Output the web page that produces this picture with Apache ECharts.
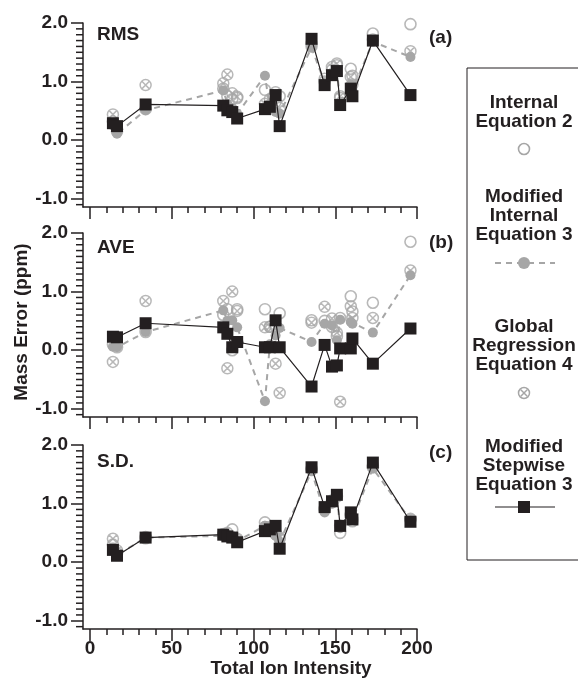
<!DOCTYPE html>
<html>
<head>
<meta charset="utf-8">
<script src="https://cdn.jsdelivr.net/npm/echarts@6/dist/echarts.min.js"></script>
<style>
html,body{margin:0;padding:0;background:#fff;}
#chart{width:578px;height:680px;}
</style>
</head>
<body>
<div id="chart"></div>
<script>
// ---------- DATA ----------
var intensity = [14, 16.5, 34, 81.5, 84, 87, 90, 107, 110, 113.5, 116, 135.5, 143.5, 148, 151, 153, 159.5, 160.5, 173, 196];

// (a) RMS
var rmsInternal    = [0.32, 0.15, 0.53, 0.88, 0.75, 0.70, 0.72, 0.86, 0.60, 0.65, 0.75, 1.65, 1.00, 1.20, 1.28, 0.72, 1.22, 1.10, 1.82, 1.98];
var rmsModInternal = [0.25, 0.11, 0.51, 0.85, 0.62, 0.55, 0.45, 1.10, 0.55, 0.48, 0.45, 1.58, 0.98, 1.10, 1.20, 0.65, 0.95, 0.85, 1.68, 1.42];
var rmsGlobal      = [0.44, 0.20, 0.94, 0.97, 1.12, 0.80, 0.74, 0.62, 0.70, 0.82, 0.55, 1.60, 1.05, 1.25, 1.31, 0.75, 1.08, 0.95, 1.72, 1.52];
var rmsStepwise    = [0.29, 0.24, 0.61, 0.59, 0.51, 0.48, 0.37, 0.53, 0.57, 0.77, 0.24, 1.73, 0.94, 1.11, 1.18, 0.60, 0.88, 0.75, 1.70, 0.77];

// (b) AVE
var aveInternal    = [0.10, 0.05, 0.31, 0.60, 0.70, 0.00, 0.70, 0.70, 0.40, 0.40, 0.63, 0.51, 0.50, 0.40, 0.24, 0.55, 0.92, 0.66, 0.81, 1.85];
var aveModInternal = [0.06, 0.05, 0.31, 0.68, 0.50, 0.51, 0.39, -0.87, 0.10, 0.25, 0.38, 0.14, 0.45, 0.42, 0.17, 0.52, 0.48, 0.45, 0.30, 1.28];
var aveGlobal      = [-0.20, 0.10, 0.84, 0.84, -0.31, 1.00, 0.67, 0.39, 0.40, -0.23, -0.73, 0.47, 0.74, 0.54, 0.30, -0.88, 0.75, 0.55, 0.55, 1.36];
var aveStepwise    = [0.23, 0.22, 0.46, 0.39, 0.28, 0.05, 0.14, 0.05, 0.05, 0.51, 0.05, -0.62, 0.09, -0.28, -0.26, 0.03, 0.03, 0.20, -0.23, 0.37];

// (c) S.D.
var sdInternal     = [0.30, 0.15, 0.41, 0.48, 0.50, 0.56, 0.40, 0.68, 0.60, 0.48, 0.40, 1.60, 0.90, 1.05, 1.12, 0.50, 0.80, 0.70, 1.62, 0.74];
var sdModInternal  = [0.25, 0.12, 0.42, 0.45, 0.42, 0.40, 0.36, 0.62, 0.55, 0.45, 0.35, 1.55, 0.85, 1.00, 1.12, 0.58, 0.78, 0.72, 1.60, 0.72];
var sdGlobal       = [0.40, 0.20, 0.43, 0.46, 0.45, 0.43, 0.38, 0.60, 0.58, 0.50, 0.42, 1.58, 0.92, 1.02, 1.14, 0.62, 0.82, 0.74, 1.65, 0.72];
var sdStepwise     = [0.21, 0.11, 0.42, 0.47, 0.44, 0.42, 0.34, 0.53, 0.56, 0.62, 0.23, 1.62, 0.94, 1.04, 1.15, 0.62, 0.85, 0.73, 1.70, 0.69];

var xMajorTicks = [0, 50, 100, 150, 200];
var xMinorTicks = [10, 20, 30, 40, 60, 70, 80, 90, 110, 120, 130, 140, 160, 170, 180, 190];
var yMajorTicks = [-1, 0, 1, 2];
var yMinorTicks = [-1.1, -0.9, -0.8, -0.7, -0.6, -0.5, -0.4, -0.3, -0.2, -0.1,
                   0.1, 0.2, 0.3, 0.4, 0.5, 0.6, 0.7, 0.8, 0.9,
                   1.1, 1.2, 1.3, 1.4, 1.5, 1.6, 1.7, 1.8, 1.9];

var panelNames = ['RMS', 'AVE', 'S.D.'];
var panelTags = ['(a)', '(b)', '(c)'];
var legendNames = [['Internal', 'Equation 2'], ['Modified', 'Internal', 'Equation 3'], ['Global', 'Regression', 'Equation 4'], ['Modified', 'Stepwise', 'Equation 3']];

// ---------- STYLE ----------
var INK = '#231f20';
var GRAY = '#a6a6a6';
var FONT = 'Arial, "Liberation Sans", sans-serif';
var OTIMES = 'path://M2,12 A10,10 0 1 1 22,12 A10,10 0 1 1 2,12 Z M5.6,5.6 L18.4,18.4 M18.4,5.6 L5.6,18.4';
var X_MIN = -4.3, X_MAX = 200, Y_MIN = -1.14, Y_MAX = 2;

var panels = [
  {internal: rmsInternal, mod: rmsModInternal, glob: rmsGlobal, step: rmsStepwise},
  {internal: aveInternal, mod: aveModInternal, glob: aveGlobal, step: aveStepwise},
  {internal: sdInternal, mod: sdModInternal, glob: sdGlobal, step: sdStepwise}
];
var gridTops = [23, 233, 445];

function pairs(vals) { return intensity.map(function (x, i) { return [x, vals[i]]; }); }

var grids = [], xAxes = [], yAxes = [], series = [];
panels.forEach(function (p, i) {
  grids.push({left: 83, top: gridTops[i], width: 334, height: 184});
  xAxes.push({
    type: 'value', gridIndex: i, min: X_MIN, max: X_MAX, position: 'bottom',
    axisLine: {show: true, onZero: false, lineStyle: {color: INK, width: 1.5}},
    axisTick: {show: true, customValues: xMajorTicks, length: 12, lineStyle: {color: INK, width: 1.5}},
    axisLabel: {show: i === 2, customValues: xMajorTicks, margin: 10, color: INK, fontSize: 19, fontWeight: 'bold', fontFamily: FONT},
    splitLine: {show: false}
  });
  xAxes.push({
    type: 'value', gridIndex: i, min: X_MIN, max: X_MAX, position: 'bottom',
    axisLine: {show: false, onZero: false},
    axisTick: {show: true, customValues: xMinorTicks, length: 6, lineStyle: {color: INK, width: 1.5}},
    axisLabel: {show: false}, splitLine: {show: false}
  });
  yAxes.push({
    type: 'value', gridIndex: i, min: Y_MIN, max: Y_MAX, position: 'left',
    axisLine: {show: true, onZero: false, lineStyle: {color: INK, width: 1.5}},
    axisTick: {show: true, customValues: yMajorTicks, length: 12, lineStyle: {color: INK, width: 1.5}},
    axisLabel: {show: true, customValues: yMajorTicks, margin: 15, color: INK, fontSize: 19, fontWeight: 'bold', fontFamily: FONT,
      formatter: function (v) { return Number(v).toFixed(1); }},
    splitLine: {show: false}
  });
  var xi = 2 * i, yi = i;
  series.push({
    name: 'Internal Equation 2', type: 'scatter', xAxisIndex: xi, yAxisIndex: yi,
    symbol: 'circle', symbolSize: 11, z: 2,
    itemStyle: {color: 'rgba(255,255,255,0)', borderColor: GRAY, borderWidth: 1.6},
    data: pairs(p.internal)
  });
  series.push({
    name: 'Global Regression Equation 4', type: 'scatter', xAxisIndex: xi, yAxisIndex: yi,
    symbol: OTIMES, symbolSize: 11, z: 3,
    itemStyle: {color: 'rgba(255,255,255,0)', borderColor: GRAY, borderWidth: 1.5},
    data: pairs(p.glob)
  });
  series.push({
    name: 'Modified Internal Equation 3', type: 'line', xAxisIndex: xi, yAxisIndex: yi,
    symbol: 'circle', symbolSize: 10, showAllSymbol: true, z: 4,
    lineStyle: {color: GRAY, width: 2, type: [6, 5]},
    itemStyle: {color: GRAY},
    data: pairs(p.mod)
  });
  series.push({
    name: 'Modified Stepwise Equation 3', type: 'line', xAxisIndex: xi, yAxisIndex: yi,
    symbol: 'rect', symbolSize: 12, showAllSymbol: true, z: 5,
    lineStyle: {color: INK, width: 1.2},
    itemStyle: {color: INK},
    data: pairs(p.step)
  });
});

// ---------- TEXT / LEGEND GRAPHICS ----------
var graphics = [];
function txt(s, x, y, align, extra) {
  var g = {type: 'text', x: x, y: y, z: 100,
    style: {text: s, fill: INK, font: 'bold 19px ' + FONT, align: align || 'center', verticalAlign: 'middle'}};
  if (extra) for (var k in extra) g[k] = extra[k];
  return g;
}
var nameY = [35, 248, 462], tagY = [38, 243, 453];
for (var i = 0; i < 3; i++) {
  graphics.push(txt(panelNames[i], 97, nameY[i], 'left'));
  graphics.push(txt(panelTags[i], 429, tagY[i], 'left'));
}
graphics.push(txt('Mass Error (ppm)', 22, 322, 'center', {rotation: Math.PI / 2}));
graphics.push(txt('Total Ion Intensity', 291, 669, 'center'));

// legend box
graphics.push({type: 'rect', z: 90, shape: {x: 467, y: 68, width: 140, height: 492},
  style: {fill: 'none', stroke: INK, lineWidth: 1}});
var legendLineY = [[103, 122], [197, 216, 235], [327, 346, 365], [447, 466, 485]];
legendNames.forEach(function (lines, k) {
  lines.forEach(function (s, j) { graphics.push(txt(s, 524, legendLineY[k][j], 'center')); });
});
var LX = 524;
graphics.push({type: 'circle', z: 95, shape: {cx: LX, cy: 149, r: 5.5}, style: {fill: 'none', stroke: GRAY, lineWidth: 1.6}});
graphics.push({type: 'line', z: 95, shape: {x1: 495, y1: 263, x2: 555, y2: 263}, style: {stroke: GRAY, lineWidth: 2, lineDash: [6, 5]}});
graphics.push({type: 'circle', z: 96, shape: {cx: LX, cy: 263, r: 6}, style: {fill: GRAY}});
graphics.push({type: 'circle', z: 95, shape: {cx: LX, cy: 393, r: 5.5}, style: {fill: 'none', stroke: GRAY, lineWidth: 1.5}});
graphics.push({type: 'line', z: 95, shape: {x1: LX - 3.2, y1: 393 - 3.2, x2: LX + 3.2, y2: 393 + 3.2}, style: {stroke: GRAY, lineWidth: 1.5}});
graphics.push({type: 'line', z: 95, shape: {x1: LX + 3.2, y1: 393 - 3.2, x2: LX - 3.2, y2: 393 + 3.2}, style: {stroke: GRAY, lineWidth: 1.5}});
graphics.push({type: 'line', z: 95, shape: {x1: 495, y1: 507, x2: 555, y2: 507}, style: {stroke: INK, lineWidth: 1.2}});
graphics.push({type: 'rect', z: 96, shape: {x: LX - 6, y: 501, width: 12, height: 12}, style: {fill: INK}});

var chart = echarts.init(document.getElementById('chart'), null, {renderer: 'canvas'});
chart.setOption({
  animation: false,
  backgroundColor: '#fff',
  grid: grids,
  xAxis: xAxes,
  yAxis: yAxes,
  series: series,
  graphic: graphics
});

// minor y-axis ticks, positioned through each panel's y scale
var tickGraphics = [];
for (var g = 0; g < 3; g++) {
  yMinorTicks.forEach(function (v) {
    var pt = chart.convertToPixel({xAxisIndex: 2 * g, yAxisIndex: g}, [X_MIN, v]);
    tickGraphics.push({type: 'line', z: 120,
      shape: {x1: pt[0] - 7, y1: pt[1], x2: pt[0], y2: pt[1]},
      style: {stroke: INK, lineWidth: 1.5}});
  });
}
chart.setOption({graphic: graphics.concat(tickGraphics)});
</script>
</body>
</html>
